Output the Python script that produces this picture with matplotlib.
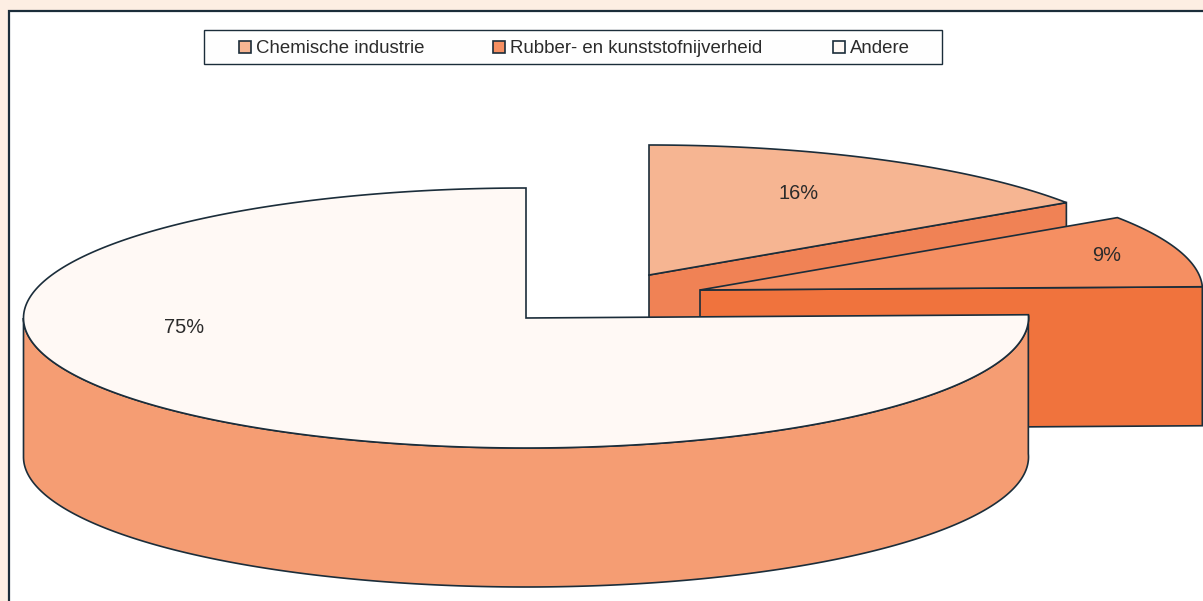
import numpy as np
import matplotlib
matplotlib.use("Agg")
import matplotlib.pyplot as plt
from matplotlib.patches import Polygon, Rectangle

plt.rcParams["font.family"] = ["Liberation Sans", "DejaVu Sans"]

# Chart data (percent)
categories = ["Chemische industrie", "Rubber- en kunststofnijverheid", "Andere"]
shares = [15.6, 9.0, 75.4]

# Colours per slice
top_colors = ["#F6B592", "#F58F62", "#FFF9F5"]
side_colors = ["#F08255", "#F0733D", "#F59D73"]
line_color = "#1B2D3A"

# Pie geometry in pixels
rx, ry, depth = 502.5, 130, 139
centers = [(649, 275), (700, 290), (526, 318)]
label_pos = [(799, 199), (1107, 261), (184, 333)]
legend_x = [238.5, 493, 832.5]

fig = plt.figure(figsize=(12.03, 6.01), dpi=100, facecolor="#FDEEE3")
ax = fig.add_axes([0, 0, 1, 1])
ax.set_xlim(0, 1203)
ax.set_ylim(601, 0)
ax.axis("off")

# Frame
ax.add_patch(Rectangle((9, 11), 1300, 700, fc="white", ec=line_color, lw=1.6, zorder=1))


def ellipse_pts(center, a0, a1, dy=0):
    # arc on the tilted pie, angles in degrees
    t = np.radians(np.linspace(a0, a1, 300))
    return np.column_stack([center[0] + rx * np.cos(t), center[1] - ry * np.sin(t) + dy])


def add_poly(pts, color, z):
    ax.add_patch(Polygon(pts, closed=True, fc=color, ec=line_color, lw=1.2,
                         joinstyle="miter", zorder=z))


# Slice angles, clockwise from the top
angles = 90 - np.cumsum([0] + shares) * 3.6
z = 2
for i in range(3):
    c = centers[i]
    a0, a1 = angles[i], angles[i + 1]
    arc = ellipse_pts(c, a0, a1)
    if i < 2:
        # cut face running from the centre to the end of the arc
        end = arc[-1]
        face = [c, end, (end[0], end[1] + depth), (c[0], c[1] + depth)]
        add_poly(face, side_colors[i], z)
    else:
        # outer wall, front half of the rim
        wall_top = ellipse_pts(c, -180, a0)
        wall_bottom = ellipse_pts(c, a0, -180, depth)
        add_poly(np.vstack([wall_top, wall_bottom]), side_colors[i], z)
    add_poly(np.vstack([[c], arc]), top_colors[i], z + 1)
    ax.text(label_pos[i][0], label_pos[i][1], f"{round(shares[i])}%", fontsize=14.4,
            color="#2B2B2B", ha="center", va="baseline", zorder=10)
    z += 2

# Legend
ax.add_patch(Rectangle((203.5, 29.5), 738.5, 34.5, fc="#FEFEFE", ec=line_color, lw=1.0, zorder=9))
for i in range(3):
    ax.add_patch(Rectangle((legend_x[i], 41), 12, 12, fc=top_colors[i], ec=line_color, lw=1.2, zorder=10))
    ax.text(legend_x[i] + 17, 53, categories[i], fontsize=13.4, color="#2B2B2B",
            ha="left", va="baseline", zorder=10)

fig.savefig("out.png", dpi=100, facecolor=fig.get_facecolor())
